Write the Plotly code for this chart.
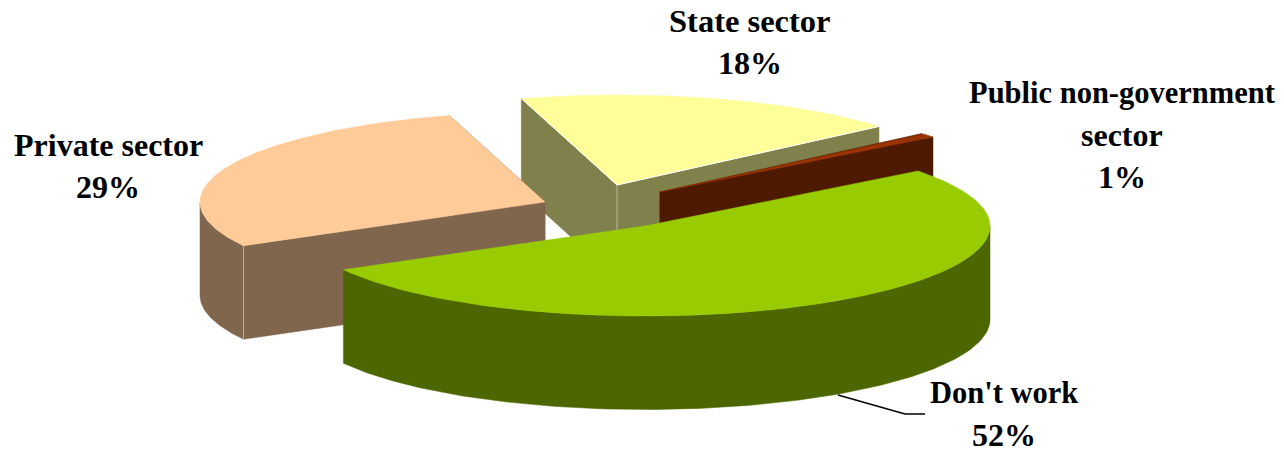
import numpy as np
import plotly.graph_objects as go

# Data
labels = ["Don't work", "Private sector", "State sector", "Public non-government<br>sector"]
values = [52.4, 28.6, 18.2, 0.8]
top_colors = ["#99CC00", "#FFCC99", "#FFFF99", "#993300"]
wall_colors = ["#4C6600", "#80664D", "#80804D", "#4D1A00"]

# 3D projection of the pie
W, H = 1284, 449
A, B, DEPTH = 345, 90, 93.5
START_DEG = 37.7          # parameter angle where the first slice begins (clockwise from here)
centers = [(645, 226), (545, 202), (617, 185), (660, 192)]
draw_order = [2, 3, 1, 0]
# per-label: centre x, y of the first line, line gap, font size of each line
label_x = [1004, 108, 750, 1122]
label_y = [393, 145, 21, 93]
label_gap = 42
label_sizes = [[30.5, 32], [32, 32], [32.5, 32], [30.5, 32, 32]]


def pt(c, t):
    t = np.radians(t)
    return c[0] + A * np.cos(t), c[1] - B * np.sin(t)


fig = go.Figure()


def poly(xs, ys, color):
    fig.add_trace(go.Scatter(x=list(xs), y=list(ys), mode="lines", fill="toself",
                             fillcolor=color, line=dict(color=color, width=0.5),
                             hoverinfo="skip", showlegend=False))


def seam(x, y0, y1):
    fig.add_trace(go.Scatter(x=[x, x], y=[y0, y1], mode="lines",
                             line=dict(color="rgba(255,255,255,0.45)", width=1),
                             hoverinfo="skip", showlegend=False))


# angular extents (clockwise from START_DEG)
total = sum(values)
edges = [START_DEG]
for v in values:
    edges.append(edges[-1] - 360.0 * v / total)

for i in draw_order:
    c = centers[i]
    t0, t1 = edges[i], edges[i + 1]
    ts = np.linspace(t0, t1, 160)
    ax, ay = pt(c, ts)

    # radial walls facing the viewer
    for t in (t0, t1):
        ex, ey = pt(c, t)
        if i != 0:
            poly([c[0], ex, ex, c[0], c[0]],
                 [c[1], ey, ey + DEPTH, c[1] + DEPTH, c[1]], wall_colors[i])
    # outer rim, where the rim faces the viewer (lower half)
    s = np.sin(np.radians(ts)) <= 0
    if s.any():
        rx, ry = ax[s], ay[s]
        poly(np.r_[rx, rx[::-1], rx[0]], np.r_[ry, ry[::-1] + DEPTH, ry[0]], wall_colors[i])
    # seams between faces
    if i == 2:
        seam(c[0], c[1], c[1] + DEPTH)
    if i == 1:
        ex, ey = pt(c, t0)
        seam(ex, ey, ey + DEPTH)
    # top face
    poly(np.r_[c[0], ax, c[0]], np.r_[c[1], ay, c[1]], top_colors[i])
    if i == 2:
        lx0, ly0 = pt(c, t1)
        lx1, ly1 = pt(c, t0)
        fig.add_trace(go.Scatter(x=[lx0, c[0], lx1], y=[ly0, c[1], ly1], mode="lines",
                                 line=dict(color="white", width=1),
                                 hoverinfo="skip", showlegend=False))

# leader line of the largest slice
fig.add_trace(go.Scatter(x=[838, 905, 925], y=[395, 414, 414], mode="lines",
                         line=dict(color="black", width=1.5),
                         hoverinfo="skip", showlegend=False))

for lab, v, x, y, sizes in zip(labels, values, label_x, label_y, label_sizes):
    lines = lab.split("<br>") + [f"{round(v + 0.0001) if v >= 1 else 1}%"]
    for k, (line, size) in enumerate(zip(lines, sizes)):
        fig.add_annotation(x=x, y=y + k * label_gap, text=f"<b>{line}</b>", showarrow=False,
                           xanchor="center", yanchor="middle", align="center",
                           font=dict(family="Liberation Serif", size=size, color="black"))

fig.update_layout(width=W, height=H, margin=dict(l=0, r=0, t=0, b=0),
                  paper_bgcolor="white", plot_bgcolor="white", showlegend=False,
                  xaxis=dict(range=[0, W], visible=False, fixedrange=True),
                  yaxis=dict(range=[H, 0], visible=False, fixedrange=True))
fig.write_html("out.html", config={"displayModeBar": False},
               post_script="document.body.style.margin='0';document.documentElement.style.overflow='hidden';")
